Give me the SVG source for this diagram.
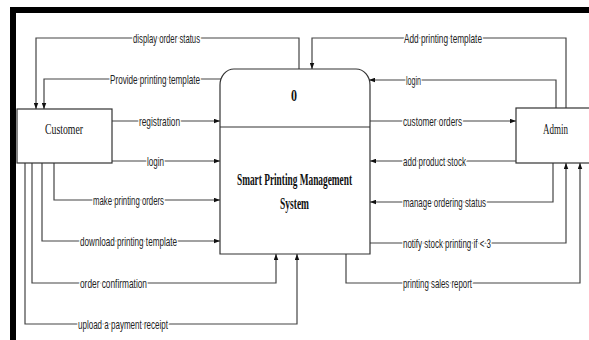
<svg xmlns="http://www.w3.org/2000/svg" width="589" height="340" viewBox="0 0 589 340">
  <defs>
    <marker id="arrow" viewBox="0 0 8 6" refX="8" refY="3" markerWidth="6" markerHeight="5" markerUnits="userSpaceOnUse" orient="auto">
      <path d="M0,0 L8,3 L0,6 z" fill="#111"/>
    </marker>
    <style>
      .frame { fill: #000; }
      .box { fill: #fff; stroke: #333; stroke-width: 1.2; }
      .flow { fill: none; stroke: #444; stroke-width: 1.2; }
      .arrowed { marker-end: url(#arrow); }
      .label { font-family: "Liberation Sans", Arial, sans-serif; font-size: 13.5px; fill: #222;
               stroke: #fff; stroke-width: 4; paint-order: stroke; stroke-linejoin: round; }
      .entity { font-family: "Liberation Serif", "Times New Roman", serif; font-size: 15px; fill: #111; text-anchor: middle; }
      .proc { font-family: "Liberation Serif", "Times New Roman", serif; font-size: 16px; font-weight: bold; fill: #111; text-anchor: middle; }
    </style>
  </defs>

  <rect width="589" height="340" fill="#fff"/>

  <!-- page frame (top and left edges) -->
  <rect class="frame" x="10" y="7" width="579" height="6"/>
  <rect class="frame" x="10" y="7" width="6" height="333"/>

  <!-- connectors -->
  <g id="connectors">
    <path class="flow arrowed" d="M299,69 V38 H36 V109"/>
    <path class="flow arrowed" d="M221,79 H44 V109"/>
    <path class="flow arrowed" d="M112,121 H220"/>
    <path class="flow arrowed" d="M112,161 H220"/>
    <path class="flow arrowed" d="M54,163 V200 H220"/>
    <path class="flow arrowed" d="M42,163 V241 H220"/>
    <path class="flow arrowed" d="M32,163 V283 H276 V254"/>
    <path class="flow arrowed" d="M25,163 V324 H297 V254"/>
    <path class="flow arrowed" d="M566,108 V38 H312 V69"/>
    <path class="flow arrowed" d="M556,108 V80 H369"/>
    <path class="flow arrowed" d="M370,121 H516"/>
    <path class="flow arrowed" d="M516,161 H370"/>
    <path class="flow arrowed" d="M553,163 V202 H370"/>
    <path class="flow arrowed" d="M370,243 H566 V163"/>
    <path class="flow arrowed" d="M346,254 V283 H580 V163"/>

    <text class="label" x="133" y="42.5" textLength="67" lengthAdjust="spacingAndGlyphs">display order status</text>
    <text class="label" x="110" y="83.5" textLength="90" lengthAdjust="spacingAndGlyphs">Provide printing template</text>
    <text class="label" x="139" y="125.5" textLength="41" lengthAdjust="spacingAndGlyphs">registration</text>
    <text class="label" x="147" y="165.5" textLength="17" lengthAdjust="spacingAndGlyphs">login</text>
    <text class="label" x="93" y="204.5" textLength="71" lengthAdjust="spacingAndGlyphs">make printing orders</text>
    <text class="label" x="80" y="245.5" textLength="97" lengthAdjust="spacingAndGlyphs">download printing template</text>
    <text class="label" x="80" y="287.5" textLength="67" lengthAdjust="spacingAndGlyphs">order confirmation</text>
    <text class="label" x="78" y="328.5" textLength="90" lengthAdjust="spacingAndGlyphs">upload a payment receipt</text>
    <text class="label" x="404" y="42.5" textLength="78" lengthAdjust="spacingAndGlyphs">Add printing template</text>
    <text class="label" x="406" y="84.5" textLength="15" lengthAdjust="spacingAndGlyphs">login</text>
    <text class="label" x="403" y="125.5" textLength="59" lengthAdjust="spacingAndGlyphs">customer orders</text>
    <text class="label" x="403" y="165.5" textLength="63" lengthAdjust="spacingAndGlyphs">add product stock</text>
    <text class="label" x="403" y="206.5" textLength="83" lengthAdjust="spacingAndGlyphs">manage ordering status</text>
    <text class="label" x="403" y="247.5" textLength="88" lengthAdjust="spacingAndGlyphs">notify stock printing if &lt; 3</text>
    <text class="label" x="403" y="287.5" textLength="69" lengthAdjust="spacingAndGlyphs">printing sales report</text>
  </g>

  <!-- external entity: Customer -->
  <g id="customer">
    <rect class="box" x="17" y="109" width="95" height="54"/>
    <text class="entity" x="64" y="133.5" textLength="38" lengthAdjust="spacingAndGlyphs">Customer</text>
  </g>

  <!-- external entity: Admin -->
  <g id="admin">
    <rect class="box" x="516" y="108" width="80" height="55"/>
    <text class="entity" x="555.5" y="133.5" textLength="25" lengthAdjust="spacingAndGlyphs">Admin</text>
  </g>

  <!-- process 0 -->
  <g id="process">
    <path class="box" d="M220,254 V85 A14,16 0 0 1 234,69 H356 A14,16 0 0 1 370,85 V254 Z"/>
    <line x1="220" y1="127" x2="370" y2="127" stroke="#333" stroke-width="1.2"/>
    <text class="proc" x="294" y="101" font-size="15" textLength="6" lengthAdjust="spacingAndGlyphs">0</text>
    <text class="proc" x="294.5" y="185" textLength="115" lengthAdjust="spacingAndGlyphs">Smart Printing Management</text>
    <text class="proc" x="294.5" y="209" textLength="29" lengthAdjust="spacingAndGlyphs">System</text>
  </g>
</svg>
